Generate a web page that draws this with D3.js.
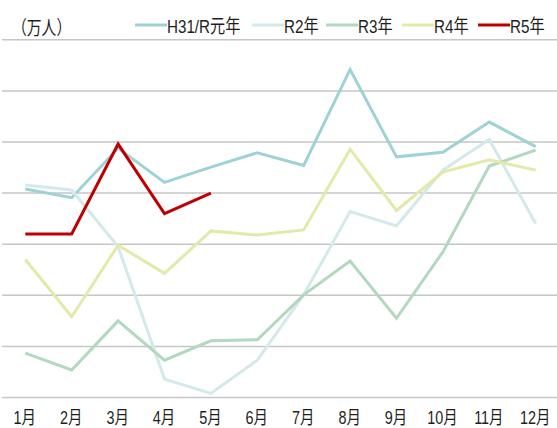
<!DOCTYPE html>
<html>
<head>
<meta charset="utf-8">
<script src="https://cdn.jsdelivr.net/npm/d3@7"></script>
<style>
  html, body { margin: 0; padding: 0; background: #fff; }
  svg text { font-family: "Liberation Sans", "Noto Sans CJK JP", sans-serif; fill: #1e1e1e; }
</style>
</head>
<body>
<div id="chart"></div>
<script>
// 月
const months = ['1月', '2月', '3月', '4月', '5月', '6月', '7月', '8月', '9月', '10月', '11月', '12月'];
// gridline values (no labels shown on the y axis)
const yTicks = [0, 10, 20, 30, 40, 50, 60, 70];

const seriesNames = ['H31/R元年', 'R2年', 'R3年', 'R4年', 'R5年'];
const h31 = [40.7, 39.0, 48.7, 42.0, 45.0, 47.8, 45.3, 64.1, 47.0, 47.9, 53.8, 49.0];
const r2 = [41.5, 40.5, 29.4, 3.5, 0.7, 7.2, 20.0, 36.3, 33.5, 44.4, 50.4, 33.9];
const r3 = [8.6, 5.3, 14.9, 7.2, 11.0, 11.2, 20.0, 26.6, 15.4, 28.4, 45.2, 48.3];
const r4 = [26.9, 15.7, 29.7, 24.2, 32.5, 31.7, 32.7, 48.5, 36.5, 44.0, 46.4, 44.4];
const r5 = [31.9, 31.9, 49.5, 35.9, 39.9];
const colors = ['#9fd2d5', '#d3e9ea', '#b2d8c0', '#e3eaa8', '#c00000'];

const width = 557, height = 428;
const svg = d3.select('#chart').append('svg')
  .attr('width', width)
  .attr('height', height);

const x = d3.scalePoint()
  .domain(months)
  .range([25.3, 535.7]);

const y = d3.scaleLinear()
  .domain([0, 70])
  .range([397, 39.3]);

// gridlines
svg.append('g')
  .attr('transform', 'translate(557,0)')
  .call(d3.axisLeft(y).tickValues(yTicks).tickSize(555).tickFormat(''))
  .call(g => g.select('.domain').remove())
  .call(g => g.selectAll('.tick line').attr('stroke', '#c6c6c6').attr('stroke-width', 1.5));

// x axis labels (narrow text, like the original)
svg.append('g')
  .attr('transform', 'translate(0,397)')
  .call(d3.axisBottom(x).tickSize(0))
  .call(g => g.select('.domain').remove())
  .call(g => g.selectAll('text')
    .attr('font-size', 18)
    .attr('y', 0).attr('dy', 0)
    .attr('transform', 'translate(-1,26.5) scale(0.8,1)')
    .style('font-family', null));

const line = d3.line()
  .x((d, i) => x(months[i]))
  .y(d => y(d));

const allSeries = [h31, r2, r3, r4, r5];
svg.append('g')
  .selectAll('path')
  .data(allSeries)
  .join('path')
  .attr('d', d => line(d))
  .attr('fill', 'none')
  .attr('stroke', (d, i) => colors[i])
  .attr('stroke-width', 3)
  .attr('stroke-linejoin', 'miter');

// unit label
svg.append('text')
  .attr('transform', 'translate(12,35) scale(0.78,1)')
  .attr('font-size', 19)
  .text('（万人）');

// legend
const legendX = [135, 252, 326, 402, 478];
const legend = svg.append('g')
  .selectAll('g')
  .data(seriesNames)
  .join('g')
  .attr('transform', (d, i) => `translate(${legendX[i]},25)`);

legend.append('line')
  .attr('x1', 0).attr('x2', 32)
  .attr('y1', 0).attr('y2', 0)
  .attr('stroke', (d, i) => colors[i])
  .attr('stroke-width', 3);

legend.append('text')
  .attr('transform', 'translate(32,8) scale(0.8,1)')
  .attr('font-size', 19)
  .text(d => d);
</script>
</body>
</html>
